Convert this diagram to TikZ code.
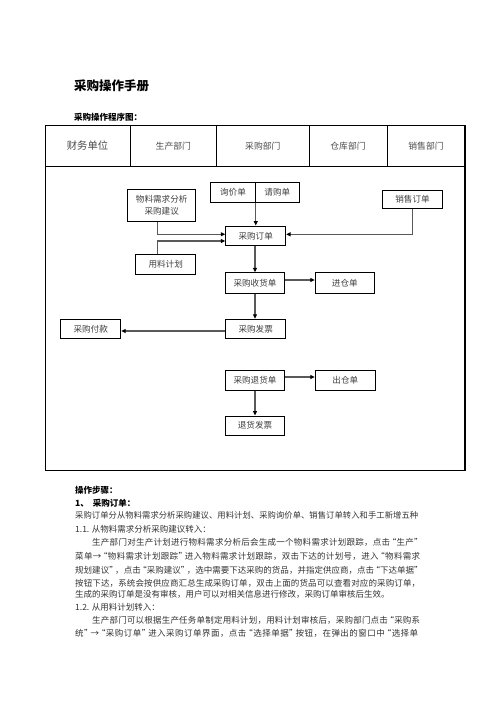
\documentclass[tikz,border=0pt]{standalone}
\usepackage{fontspec}
\setmainfont{Noto Sans CJK SC}
\usetikzlibrary{arrows.meta}
\newcommand{\qo}{\makebox[0.7em][r]{“}}
\newcommand{\qc}{\makebox[0.7em][l]{”}}
\ExplSyntaxOn
\NewDocumentCommand{\spreadline}{m m}{\hbox~to~#1{\tl_map_inline:nn {#2} {##1\hskip~0pt~plus~1fil}\unskip}}
\ExplSyntaxOff
\begin{document}
\begin{tikzpicture}[x=1pt,y=-1pt,
  bx/.style={draw=black,line width=0.9pt,inner sep=0pt,text=black!75,font=\fontsize{8.6}{11}\selectfont},
  hd/.style={text=black!70,font=\fontsize{8.8}{11}\selectfont},
  arr/.style={draw=black!65,line width=1.1pt,-{Triangle[length=4.5pt,width=4pt,color=black]}},
  body/.style={anchor=west,inner sep=0pt,text=black!80,font=\fontsize{8.5}{11}\selectfont},
  bodyb/.style={anchor=west,inner sep=0pt,text=black,font=\fontsize{8.5}{11}\selectfont\bfseries}]
\useasboundingbox (0,0) rectangle (496,702);
\fill[white] (0,0) rectangle (496,702);
% titles
\node[anchor=west,inner sep=0pt,font=\fontsize{12.5}{14}\selectfont\bfseries] (title) at (74,86) {采购操作手册};
\node[bodyb] (sub) at (74,117) {采购操作程序图：};
% frame
\draw[line width=1.1pt] (45.3,125.3) rectangle (465,470.3);
\draw[line width=1.1pt] (45.3,166.7) -- (465,166.7);
\foreach \xx in {130,216.7,309,387} \draw[line width=1pt] (\xx,125.3) -- (\xx,166.7);
\node[hd,font=\fontsize{10.3}{12}\selectfont] (h1) at (87.5,146) {财务单位};
\node[hd] (h2) at (173.3,146) {生产部门};
\node[hd] (h3) at (262.8,146) {采购部门};
\node[hd] (h4) at (348,146) {仓库部门};
\node[hd] (h5) at (426,146) {销售部门};
% boxes
\node[bx,minimum width=68pt,minimum height=32.7pt,align=center] (mrp) at (161.7,205.3) {物料需求分析\\[1pt]采购建议};
\node[bx,minimum width=44.6pt,minimum height=20pt] (xj) at (233,192.3) {询价单};
\node[bx,minimum width=44pt,minimum height=20pt] (qg) at (277.3,192.3) {请购单};
\node[bx,minimum width=59.6pt,minimum height=18.7pt] (xs) at (412.5,199.3) {销售订单};
\node[bx,minimum width=60pt,minimum height=19.7pt] (po) at (255.7,235.8) {采购订单};
\node[bx,minimum width=60pt,minimum height=19.7pt] (yl) at (165.7,264.2) {用料计划};
\node[bx,minimum width=58.6pt,minimum height=20.6pt] (sh) at (255,283) {采购收货单};
\node[bx,minimum width=59pt,minimum height=20.6pt] (jc) at (344.8,283) {进仓单};
\node[bx,minimum width=60pt,minimum height=19pt] (fp) at (255.7,328.8) {采购发票};
\node[bx,minimum width=60pt,minimum height=19pt] (fk) at (90.7,328.8) {采购付款};
\node[bx,minimum width=58.6pt,minimum height=20.3pt] (th) at (255,380.2) {采购退货单};
\node[bx,minimum width=60pt,minimum height=20.3pt] (cc) at (345.3,380.2) {出仓单};
\node[bx,minimum width=58.6pt,minimum height=19.3pt] (thfp) at (255,425.7) {退货发票};
% connectors
\coordinate (a1) at (157.3,234.3);
\coordinate (a2) at (157.3,241);
\coordinate (a3) at (412.5,234.3);
\coordinate (a4) at (0,280);
\coordinate (a5) at (0,331);
\coordinate (a6) at (0,377);
\draw[arr] (mrp.south -| a1) |- (po.west |- a1);
\draw[arr] (yl.north -| a2) |- (po.west |- a2);
\draw[arr] (xj.south east) -- (po.north -| xj.south east);
\draw[arr] (xs.south) |- (po.east |- a3);
\draw[arr] (po.south -| sh.north) -- (sh.north);
\draw[arr] (sh.east |- a4) -- (jc.west |- a4);
\draw[arr] (sh.south) -- (sh.south |- fp.north);
\draw[arr] (fp.west |- a5) -- (fk.east |- a5);
\draw[arr] (th.east |- a6) -- (cc.west |- a6);
\draw[arr] (th.south) -- (thfp.north);
% text below
\node[bodyb] (t1) at (75,490) {操作步骤：};
\node[bodyb] (t2) at (75,503.3) {1、\hspace{4pt}采购订单：};
\node[body,font=\fontsize{8.3}{11}\selectfont] (t3) at (75,515.7) {\spreadline{343pt}{采购订单分从物料需求分析采购建议、用料计划、采购询价单、销售订单转入和手工新增五种}};
\node[body] (t4) at (75,529.3) {1.1. 从物料需求分析采购建议转入：};
\node[body] (t5) at (92,542.7) {\spreadline{328pt}{生产部门对生产计划进行物料需求分析后会生成一个物料需求计划跟踪，点击\qo 生产\qc}};
\node[body] (t6) at (75,556.7) {\spreadline{345pt}{菜单→\qo 物料需求计划跟踪\qc 进入物料需求计划跟踪，双击下达的计划号，进入\qo 物料需求}};
\node[body] (t7) at (75,570) {\spreadline{345pt}{规划建议\qc，点击\qo 采购建议\qc，选中需要下达采购的货品，并指定供应商，点击\qo 下达单据\qc}};
\node[body] (t8) at (75,583.3) {\spreadline{345pt}{按钮下达，系统会按供应商汇总生成采购订单，双击上面的货品可以查看对应的采购订单，}};
\node[body] (t9) at (75,594.3) {生成的采购订单是没有审核，用户可以对相关信息进行修改，采购订单审核后生效。};
\node[body] (t10) at (75,607.3) {1.2. 从用料计划转入：};
\node[body] (t11) at (92,620.7) {\spreadline{328pt}{生产部门可以根据生产任务单制定用料计划，用料计划审核后，采购部门点击\qo 采购系}};
\node[body] (t12) at (75,633.3) {\spreadline{343pt}{统\qc →\qo 采购订单\qc 进入采购订单界面，点击\qo 选择单据\qc 按钮，在弹出的窗口中\qo 选择单}};
\end{tikzpicture}
\end{document}
